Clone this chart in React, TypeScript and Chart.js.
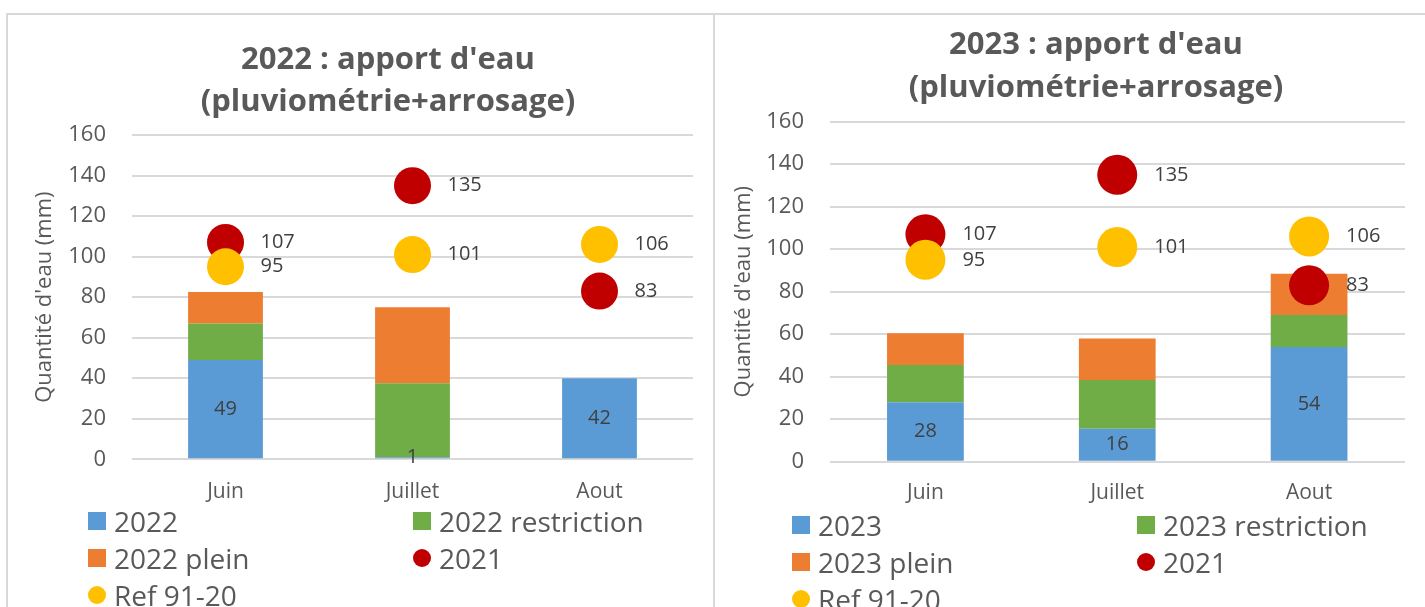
import React, { useEffect, useRef } from "react";
import { Chart, registerables } from "chart.js";

Chart.register(...registerables);

// ---------- data ----------
const months = ["Juin", "Juillet", "Aout"];
const yMin = 0;
const yMax = 160;
const yStep = 20;

const title2022 = ["2022 : apport d'eau", "(pluviométrie+arrosage)"];
const title2023 = ["2023 : apport d'eau", "(pluviométrie+arrosage)"];
const yAxisTitle = "Quantité d'eau (mm)";

const legend2022 = ["2022", "2022 restriction", "2022 plein", "2021", "Ref 91-20"];
const legend2023 = ["2023", "2023 restriction", "2023 plein", "2021", "Ref 91-20"];

const values2022 = [49, 1, 40];
const labels2022 = ["49", "1", "42"];
const restriction2022 = [18, 36.5, null];
const plein2022 = [15.5, 37.5, null];

const values2023 = [28, 15.5, 54];
const labels2023 = ["28", "16", "54"];
const restriction2023 = [17.5, 23, 15];
const plein2023 = [15, 19.5, 19.5];

const values2021 = [107, 135, 83];
const valuesRef = [95, 101, 106];

const COLORS = {
  blue: "#5b9bd5",
  green: "#70ad47",
  orange: "#ed7d31",
  red: "#c00000",
  yellow: "#ffc000",
  text: "#595959",
  label: "#404040",
  grid: "#d9d9d9",
};

const FONT = "'Open Sans', 'DejaVu Sans', sans-serif";

type Geom = {
  cx: number; cy: number; cw: number; ch: number;
  yw: number; pr: number; tpt: number; tpb: number; tlh: number;
  ytt: number; ytp: number; xtp: number; xh: number;
  r: number; lo: number; lx: number; ly: number; colW: number;
};

const geomLeft: Geom = {
  cx: 7, cy: 14, cw: 762, ch: 500,
  yw: 125, pr: 76, tpt: 25, tpb: 12, tlh: 42,
  ytt: 24.8, ytp: 26, xtp: 20.1, xh: 54.7,
  r: 18.5, lo: 35, lx: 88, ly: 502.5, colW: 325,
};

const geomRight: Geom = {
  cx: 714, cy: 14, cw: 764, ch: 500,
  yw: 115.5, pr: 73, tpt: 9.5, tpb: 12.2, tlh: 43,
  ytt: 16.8, ytp: 25.5, xtp: 18.7, xh: 52.3,
  r: 20, lo: 37, lx: 792, ly: 506.5, colW: 345,
};

const valueLabelPlugin = (offset: number) => ({
  id: "valueLabels",
  afterDatasetsDraw(chart: any) {
    const ctx = chart.ctx;
    ctx.save();
    ctx.font = `20px ${FONT}`;
    ctx.fillStyle = COLORS.label;
    ctx.textBaseline = "middle";
    chart.data.datasets.forEach((ds: any, i: number) => {
      const labels: (string | null)[] | undefined = ds.valueLabels;
      if (!labels) return;
      const meta = chart.getDatasetMeta(i);
      meta.data.forEach((el: any, j: number) => {
        const t = labels[j];
        if (t == null) return;
        if (meta.type === "bar") {
          const p = el.getProps(["x", "y", "base"], true);
          ctx.textAlign = "center";
          ctx.fillText(t, p.x, (p.y + p.base) / 2);
        } else {
          ctx.textAlign = "left";
          ctx.fillText(t, el.x + offset, el.y);
        }
      });
    });
    ctx.restore();
  },
});

type PanelProps = {
  g: Geom;
  title: string[];
  names: string[];
  blue: number[];
  blueLabels: string[];
  green: (number | null)[];
  orange: (number | null)[];
};

function Panel({ g, title, names, blue, blueLabels, green, orange }: PanelProps) {
  const ref = useRef<HTMLCanvasElement>(null);

  const series = [
    { name: names[0], kind: "bar", data: blue, color: COLORS.blue, labels: blueLabels, order: 2 },
    { name: names[1], kind: "bar", data: green, color: COLORS.green, labels: null, order: 2 },
    { name: names[2], kind: "bar", data: orange, color: COLORS.orange, labels: null, order: 2 },
    { name: names[3], kind: "point", data: values2021, color: COLORS.red, labels: values2021.map(String), order: 1 },
    { name: names[4], kind: "point", data: valuesRef, color: COLORS.yellow, labels: valuesRef.map(String), order: 0 },
  ];

  useEffect(() => {
    if (!ref.current) return;
    const datasets: any[] = series.map((s, i) =>
      s.kind === "bar"
        ? {
            type: "bar",
            label: s.name,
            data: s.data,
            backgroundColor: s.color,
            borderWidth: 0,
            stack: "bars",
            barPercentage: 0.4,
            categoryPercentage: 1,
            order: s.order,
            valueLabels: s.labels,
          }
        : {
            type: "line",
            label: s.name,
            data: s.data,
            showLine: false,
            stack: "pt" + i,
            order: s.order,
            pointRadius: g.r,
            pointHoverRadius: g.r,
            pointBackgroundColor: s.color,
            pointBorderColor: s.color,
            pointBorderWidth: 0,
            backgroundColor: s.color,
            borderColor: s.color,
            valueLabels: s.labels,
          }
    );

    const chart = new Chart(ref.current, {
      type: "bar",
      data: { labels: months, datasets },
      options: {
        responsive: false,
        animation: false,
        devicePixelRatio: 1,
        events: [],
        layout: { padding: 0 },
        plugins: {
          legend: { display: false },
          tooltip: { enabled: false },
          title: {
            display: true,
            text: title,
            color: COLORS.text,
            font: { family: FONT, size: 31, weight: "bold", lineHeight: g.tlh + "px" },
            padding: { top: g.tpt, bottom: g.tpb },
          },
        },
        scales: {
          x: {
            stacked: true,
            grid: { display: false, drawTicks: false },
            border: { display: false },
            ticks: { color: COLORS.text, font: { family: FONT, size: 21 }, padding: g.xtp },
            afterFit: (s: any) => {
              s.height = g.xh;
            },
          },
          y: {
            stacked: true,
            min: yMin,
            max: yMax,
            grid: { color: COLORS.grid, lineWidth: 2, drawTicks: false },
            border: { display: false },
            ticks: { stepSize: yStep, color: COLORS.text, font: { family: FONT, size: 22 }, padding: g.ytp },
            title: {
              display: true,
              text: yAxisTitle,
              color: COLORS.text,
              font: { family: FONT, size: 22 },
              padding: { top: g.ytt, bottom: 0 },
            },
            afterFit: (s: any) => {
              s.width = g.yw;
            },
          },
          yR: {
            position: "right",
            display: true,
            grid: { display: false, drawTicks: false },
            border: { display: false },
            ticks: { display: false },
            afterFit: (s: any) => {
              s.width = g.pr;
            },
          },
        },
      } as any,
      plugins: [valueLabelPlugin(g.lo)],
    });
    return () => chart.destroy();
  }, []);

  return (
    <>
      <canvas
        ref={ref}
        width={g.cw}
        height={g.ch}
        style={{ position: "absolute", left: g.cx, top: g.cy, width: g.cw, height: g.ch }}
      />
      <div
        style={{
          position: "absolute",
          left: g.lx,
          top: g.ly,
          display: "grid",
          gridTemplateColumns: `${g.colW}px ${g.colW}px`,
          fontFamily: FONT,
          fontSize: 28,
          color: COLORS.text,
          zIndex: 2,
        }}
      >
        {series.map((s) => (
          <div key={s.name} style={{ display: "flex", alignItems: "center", height: 37, whiteSpace: "nowrap" }}>
            <span
              style={{
                display: "inline-block",
                width: 18,
                height: 18,
                background: s.color,
                borderRadius: s.kind === "point" ? "50%" : 0,
                marginRight: 8,
                flex: "none",
              }}
            />
            <span style={{ lineHeight: "37px" }}>{s.name}</span>
          </div>
        ))}
      </div>
    </>
  );
}

export default function App() {
  return (
    <div
      style={{
        position: "fixed",
        left: 0,
        top: 0,
        width: 1425,
        height: 607,
        overflow: "hidden",
        background: "#ffffff",
      }}
    >
      <div
        style={{
          position: "absolute",
          left: 6,
          top: 13,
          width: 709,
          height: 700,
          border: "2px solid #d9d9d9",
          boxSizing: "border-box",
        }}
      />
      <div
        style={{
          position: "absolute",
          left: 713,
          top: 13,
          width: 800,
          height: 700,
          border: "2px solid #d9d9d9",
          boxSizing: "border-box",
        }}
      />
      <Panel
        g={geomLeft}
        title={title2022}
        names={legend2022}
        blue={values2022}
        blueLabels={labels2022}
        green={restriction2022}
        orange={plein2022}
      />
      <Panel
        g={geomRight}
        title={title2023}
        names={legend2023}
        blue={values2023}
        blueLabels={labels2023}
        green={restriction2023}
        orange={plein2023}
      />
    </div>
  );
}
